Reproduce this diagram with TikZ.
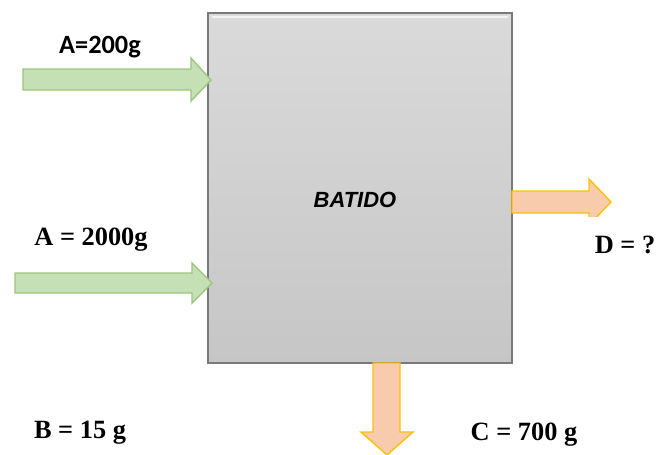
\documentclass[tikz,border=0pt]{standalone}
\usepackage{fontspec}
\setmainfont{Liberation Serif}
\newfontfamily\calibrifont{Carlito}
\newfontfamily\arialfont{Liberation Sans}
\usepackage{xcolor}
\definecolor{feed-green}{HTML}{C5E0B4}
\definecolor{feed-edge}{HTML}{9CC57E}
\definecolor{out-orange}{HTML}{F8CBAD}
\definecolor{out-edge}{HTML}{FFC000}
\definecolor{box-top}{HTML}{DADADA}
\definecolor{box-bottom}{HTML}{C6C6C6}
\definecolor{box-edge}{HTML}{7A7A7A}

\begin{document}
\begin{tikzpicture}[x=0.02cm, y=-0.02cm,
    every node/.style={font=\fontsize{15}{18}\selectfont\bfseries, inner sep=0pt},
    feed/.style={draw=feed-edge, fill=feed-green, line width=0.8pt, line join=miter},
    product/.style={draw=out-edge, fill=out-orange, line width=0.8pt, line join=miter}]
    \useasboundingbox (0,0) rectangle (670,454);
    % mixing vessel
    \node[draw=box-edge, line width=1.6pt, top color=box-top, bottom color=box-bottom,
      minimum width=6.08cm, minimum height=7cm] (batido) at (360,188) {};
    \draw[white, opacity=0.7, line width=1.2pt] (212,17) -- (508,17);
    \node[font=\arialfont\fontsize{12.5}{15}\selectfont\bfseries\itshape, anchor=base]
      (blab) at (355,207) {BATIDO};
    % inlets
    \coordinate (inA) at (211,80);
    \coordinate (inB) at (212,283);
    \draw[feed] (23,69) -- (191,69) -- (191,58) -- (inA) -- (191,101) -- (191,90)
      -- (23,90) -- cycle;
    \draw[feed] (15,273) -- (192,273) -- (192,263) -- (inB) -- (192,303) -- (192,293)
      -- (15,293) -- cycle;
    % outlets (D is cut off below, as in the sketch)
    \coordinate (outD) at (512,202);
    \coordinate (outC) at (387,363);
    \begin{scope}
      \clip (500,170) rectangle (630,216.5);
      \draw[product] (outD) ++(0,-11) -- (589,191) -- (589,179) -- (611,202) -- (589,225)
        -- (589,213) -- (512,213) -- cycle;
    \end{scope}
    \draw[product] (outC) ++(-14,0) -- (400,363) -- (400,432) -- (413,432) -- (387,455)
      -- (361,432) -- (373,432) -- cycle;
    % stream labels
    \node[font=\calibrifont\fontsize{15}{18}\selectfont\bfseries, anchor=base]
      (alab) at (100,53) {A=200g};
    \node[anchor=base] (a2lab) at (91,245) {A = 2000g};
    \node[anchor=base] (dlab) at (625,253) {D = ?};
    \node[anchor=base] (blab2) at (80,438) {B = 15 g};
    \node[anchor=base] (clab) at (524,440) {C = 700 g};
  \end{tikzpicture}
\end{document}
